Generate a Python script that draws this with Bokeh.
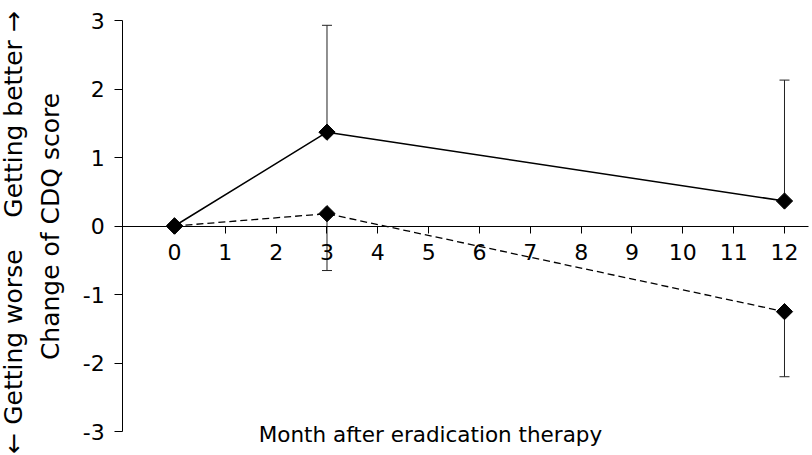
import math
from bokeh.plotting import figure
from bokeh.models import Range1d, Label, Whisker, ColumnDataSource, TeeHead, FixedTicker
from bokeh.embed import file_html
from bokeh.resources import INLINE

# data
months = [0, 3, 12]
solid_y = [0.0, 1.37, 0.365]
dashed_y = [0.0, 0.18, -1.25]
err_months = [3, 12]
solid_err_upper = [2.93, 2.13]
dashed_err_lower = [-0.65, -2.2]
x_ticks = list(range(0, 13))
y_ticks = [-3, -2, -1, 0, 1, 2, 3]
y_tick_labels = {t: str(t) for t in y_ticks}

FONT = "DejaVu Sans"
NB = "\u00a0"

p = figure(width=812, height=455, x_range=Range1d(-3.423, 12.551), y_range=Range1d(-3.350, 3.292),
           output_backend="svg", toolbar_location=None, min_border=0,
           min_border_left=0, min_border_right=0, min_border_top=0, min_border_bottom=0)
p.outline_line_color = None
p.grid.visible = False

# axes
p.xaxis.fixed_location = 0
p.xaxis.bounds = (-1.02, 12.47)
p.xaxis.ticker = FixedTicker(ticks=x_ticks)
p.xaxis.major_tick_in = 0
p.xaxis.major_tick_out = 7
p.xaxis.minor_tick_line_color = None
p.xaxis.major_label_standoff = 11
p.xaxis.major_label_text_font = FONT
p.xaxis.major_label_text_font_size = "22px"
p.xaxis.major_label_text_color = "black"
p.xaxis.axis_line_color = "black"
p.xaxis.major_tick_line_color = "black"

p.yaxis.fixed_location = -1.02
p.yaxis.bounds = (-3, 3)
p.yaxis.ticker = FixedTicker(ticks=y_ticks)
p.yaxis.major_label_overrides = y_tick_labels
p.yaxis.major_tick_in = 0
p.yaxis.major_tick_out = 8
p.yaxis.minor_tick_line_color = None
p.yaxis.major_label_standoff = 10
p.yaxis.major_label_text_font = FONT
p.yaxis.major_label_text_font_size = "22px"
p.yaxis.major_label_text_color = "black"
p.yaxis.axis_line_color = "black"
p.yaxis.major_tick_line_color = "black"

# error bars
src_s = ColumnDataSource(dict(base=err_months, lower=solid_y[1:], upper=solid_err_upper))
src_d = ColumnDataSource(dict(base=err_months, lower=dashed_err_lower, upper=dashed_y[1:]))
ws = Whisker(source=src_s, base="base", lower="lower", upper="upper", line_color="#222222", line_width=1,
             upper_head=TeeHead(size=10, line_color="#222222", line_width=1), lower_head=None)
wd = Whisker(source=src_d, base="base", lower="lower", upper="upper", line_color="#222222", line_width=1,
             lower_head=TeeHead(size=10, line_color="#222222", line_width=1), upper_head=None)
p.add_layout(ws)
p.add_layout(wd)

# lines
p.line(months, solid_y, line_color="black", line_width=1.5)
p.line(months, dashed_y, line_color="black", line_width=1.3, line_dash="7 4")
p.scatter(months, solid_y, marker="square", angle=math.pi / 4, size=11.5, fill_color="black", line_color="black")
p.scatter(months, dashed_y, marker="square", angle=math.pi / 4, size=11.5, fill_color="black", line_color="black")

# titles
p.add_layout(Label(x=5.036, y=-3.044, text="Month after eradication therapy", text_align="center",
                   text_baseline="middle", text_font=FONT, text_font_size="21.5px", text_color="black"))
p.add_layout(Label(x=-2.44, y=-0.007, text="Change of CDQ score", angle=math.pi / 2, text_align="center",
                   text_baseline="middle", text_font=FONT, text_font_size="25px", text_color="black"))
p.add_layout(Label(x=-3.167, y=-0.095,
                   text="\u2190" + NB + "Getting" + NB + "worse" + NB * 4 + "Getting" + NB + "better" + NB + "\u2192",
                   angle=math.pi / 2, text_align="center", text_baseline="middle", text_font=FONT,
                   text_font_size="25px", text_color="black"))

open("out.html", "w").write(file_html(p, INLINE))
